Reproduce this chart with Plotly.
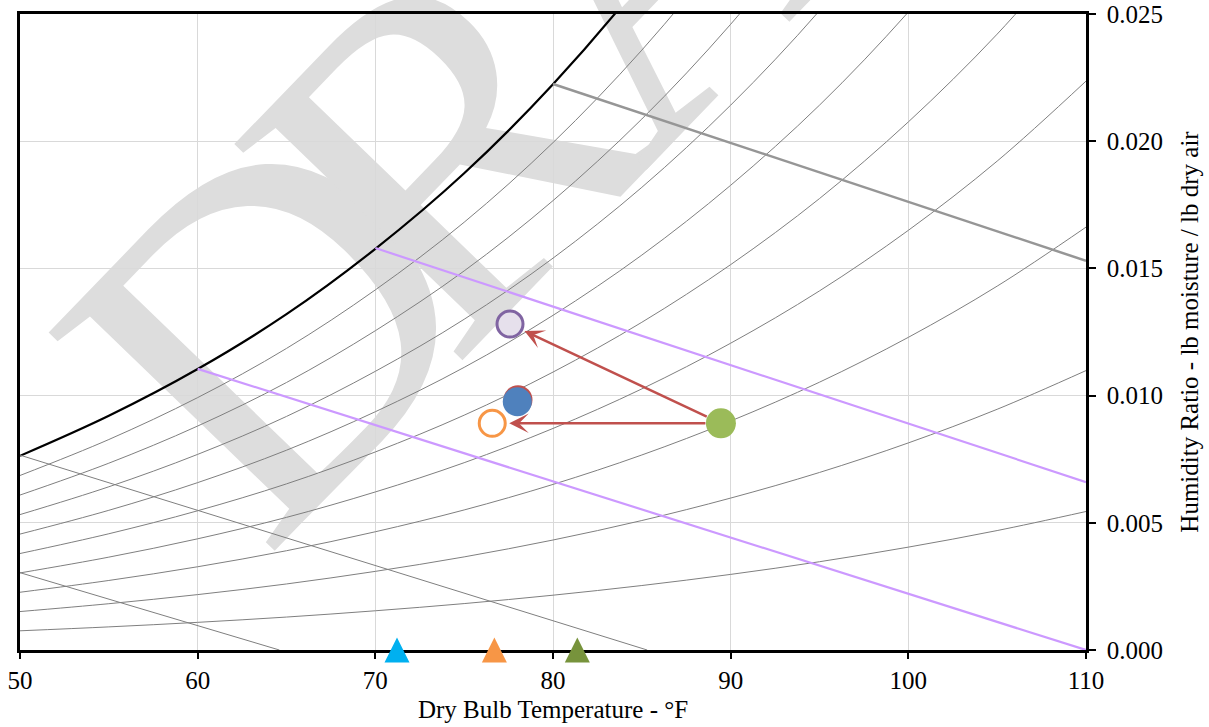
import plotly.graph_objects as go

# ---------------- data ----------------
# saturation vapour pressure of water (psia) at dry-bulb temperatures (deg F)
temps_f = [50, 55, 60, 65, 70, 75, 80, 85, 90, 95, 100, 105, 110]
psat_psia = [0.17813, 0.21435, 0.25638, 0.30539, 0.36334, 0.42980, 0.50730,
             0.59640, 0.69880, 0.81530, 0.94920, 1.10110, 1.27500]
p_atm_psia = 14.696
rh_levels = [0.1, 0.2, 0.3, 0.4, 0.5, 0.6, 0.7, 0.8, 0.9]

# enthalpy lines (end points)
purple_lines_t = [[60, 110], [70, 110]]
purple_lines_w = [[0.01105, 0.0], [0.0158, 0.0066]]
gray_line_t = [80, 110]
gray_line_w = [0.02225, 0.0153]
thin_lines_t = [[50, 85.3], [50, 64.6]]
thin_lines_w = [[0.00766, 0.0], [0.00304, 0.0]]

# state points
green_pt = (89.45, 0.00891)
orange_pt = (76.58, 0.00891)
blue_pt = (77.99, 0.00976)
red_pt = (78.03, 0.00984)
purple_pt = (77.58, 0.01281)

# triangles on the x axis
tri_t = [71.22, 76.7, 81.37]
tri_colors = ["#00b0f0", "#f79646", "#77933c"]

x_ticks = [50, 60, 70, 80, 90, 100, 110]
y_ticks = [0.000, 0.005, 0.010, 0.015, 0.020, 0.025]

# watermark letters and their centres (paper coordinates)
wm_letters = ["D", "R", "A", "F", "T"]
wm_x = [0.1985, 0.3640, 0.5533, 0.6990, 0.8446]
wm_y = [0.5700, 0.8514, 1.1797, 1.4362, 1.5928]


def hum_ratio(phi, ps):
    pv = phi * ps
    return 0.622 * pv / (p_atm_psia - pv)


FONT = "Liberation Serif"
fig = go.Figure()

# relative humidity curves
for rh in rh_levels:
    fig.add_trace(go.Scatter(
        x=temps_f, y=[hum_ratio(rh, p) for p in psat_psia], mode="lines",
        line=dict(color="#7f7f7f", width=1, shape="spline"),
        hoverinfo="skip", showlegend=False))

# saturation curve
fig.add_trace(go.Scatter(
    x=temps_f, y=[hum_ratio(1.0, p) for p in psat_psia], mode="lines",
    line=dict(color="#000000", width=2.2, shape="spline"),
    hoverinfo="skip", showlegend=False))

for t, w in zip(thin_lines_t, thin_lines_w):
    fig.add_trace(go.Scatter(x=t, y=w, mode="lines",
                             line=dict(color="#7f7f7f", width=1),
                             hoverinfo="skip", showlegend=False))

for t, w in zip(purple_lines_t, purple_lines_w):
    fig.add_trace(go.Scatter(x=t, y=w, mode="lines",
                             line=dict(color="#cc99ff", width=2.2),
                             hoverinfo="skip", showlegend=False))

fig.add_trace(go.Scatter(x=gray_line_t, y=gray_line_w, mode="lines",
                         line=dict(color="#969696", width=2.5),
                         hoverinfo="skip", showlegend=False))


# state markers
def pt(p, size, fill, lcolor, lwidth):
    fig.add_trace(go.Scatter(
        x=[p[0]], y=[p[1]], mode="markers",
        marker=dict(size=size, color=fill, line=dict(color=lcolor, width=lwidth)),
        hoverinfo="skip", showlegend=False))


pt(red_pt, 29, "#c0504d", "#c0504d", 0)
pt(blue_pt, 29, "#4f81bd", "#4f81bd", 0)
pt(orange_pt, 26, "#ffffff", "#f79646", 3)
pt(purple_pt, 26, "#e6e0ec", "#8064a2", 3)
pt(green_pt, 30, "#9bbb59", "#9bbb59", 0)

# triangles (apex-anchored arrow-up symbol, shifted so it is centred on W=0)
y_range = [0.0, 0.025]
plot_h_px = 636
tri_shift = 12.5 * (y_range[1] - y_range[0]) / plot_h_px
fig.add_trace(go.Scatter(
    x=tri_t, y=[0.0 + tri_shift] * len(tri_t), mode="markers",
    marker=dict(symbol="arrow-up", size=25, color=tri_colors, line=dict(width=0)),
    cliponaxis=False, hoverinfo="skip", showlegend=False))

# arrows
for target, so in [(orange_pt, 17), (purple_pt, 16)]:
    fig.add_annotation(
        x=target[0], y=target[1], ax=green_pt[0], ay=green_pt[1],
        xref="x", yref="y", axref="x", ayref="y", text="",
        showarrow=True, arrowhead=3, arrowsize=1.3, arrowwidth=2.5,
        arrowcolor="#c0504d", standoff=so, startstandoff=14)

# watermark (one label per letter, behind the data)
for ch, lx, ly in zip(wm_letters, wm_x, wm_y):
    fig.add_shape(
        type="rect", xref="paper", yref="paper",
        x0=lx - 0.0005, x1=lx + 0.0005, y0=ly - 0.0005, y1=ly + 0.0005,
        line=dict(width=0), fillcolor="rgba(0,0,0,0)", layer="below",
        label=dict(text=ch, textangle=-46, textposition="middle center",
                   font=dict(size=480, color="#dddddd", family=FONT)))

axis_common = dict(
    showline=True, linecolor="#000000", linewidth=2.5, mirror=True,
    showgrid=True, gridcolor="#d9d9d9", gridwidth=1,
    ticks="outside", tickcolor="#000000", tickwidth=2,
    zeroline=False, layer="below traces", automargin=False,
    ticklabeloverflow="allow",
    tickfont=dict(family=FONT, size=25, color="#000000"),
)

fig.update_layout(
    width=1209, height=727,
    margin=dict(l=20, r=123, t=14, b=77),
    paper_bgcolor="#ffffff", plot_bgcolor="rgba(0,0,0,0)",
    showlegend=False,
    xaxis=dict(range=[50, 110], tickvals=x_ticks, ticklen=6,
               title=dict(text="Dry Bulb Temperature - °F", standoff=8,
                          font=dict(family=FONT, size=25, color="#000000")),
               **axis_common),
    yaxis=dict(range=y_range, side="right", tickvals=y_ticks, tickformat=".3f",
               ticklen=7, ticklabelstandoff=6,
               title=dict(text="Humidity Ratio - lb moisture / lb dry air", standoff=19,
                          font=dict(family=FONT, size=25, color="#000000")),
               **axis_common),
)

fig.write_html("out.html", config={"displayModeBar": False},
               post_script="document.body.style.margin='0';")
